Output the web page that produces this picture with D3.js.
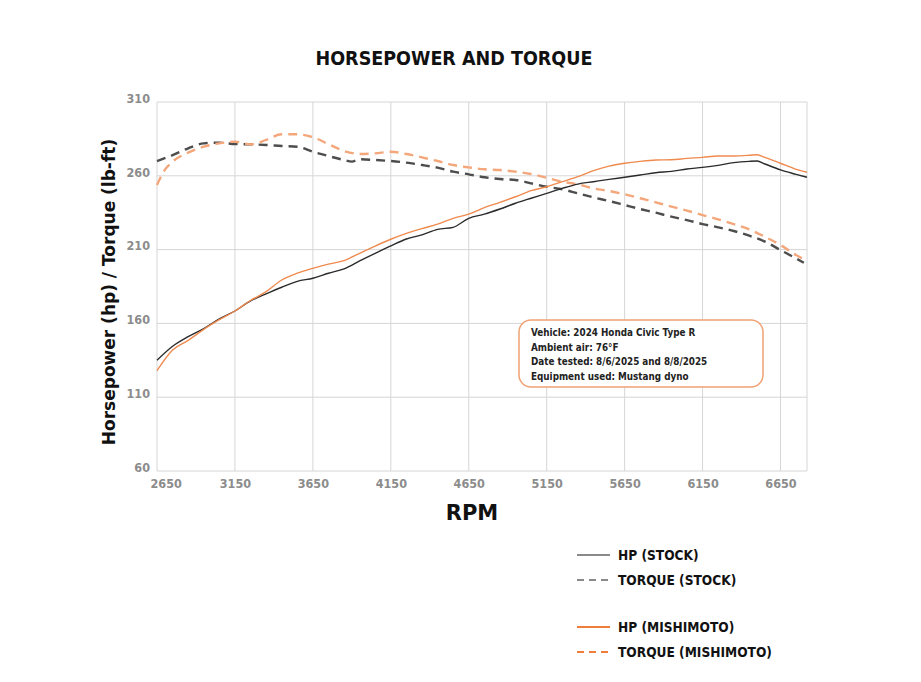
<!DOCTYPE html>
<html>
<head>
<meta charset="utf-8">
<script src="https://cdn.jsdelivr.net/npm/d3@7"></script>
<style>
  body { margin: 0; background: #fff; }
  svg { display: block; }
</style>
</head>
<body>
<svg width="921" height="682"></svg>
<script>
// rpm samples (same for every series except where noted)
const rpm = [2650, 2750, 2850, 2950, 3050, 3150, 3250, 3350, 3450, 3550, 3650, 3750, 3850, 3950,
  4050, 4150, 4250, 4350, 4450, 4550, 4650, 4750, 4850, 4950, 5050, 5150, 5250, 5350, 5450,
  5550, 5650, 5750, 5850, 5950, 6050, 6150, 6250, 6350, 6450, 6500, 6550, 6650, 6750, 6820];

const hpStock = [135, 144.5, 151, 156.5, 163, 168.4, 175.2, 180, 184.5, 188.5, 190.6, 194, 197, 202.3,
  207.5, 212.5, 217.2, 220, 223.7, 225.1, 231.2, 234, 237.5, 241.4, 244.8, 248.1, 251.5, 254.4, 256,
  257.6, 259, 260.5, 262.1, 263, 264.6, 265.7, 267.1, 268.9, 269.8, 270, 268, 264, 261, 259];

const hpMishi = [128, 142, 148.5, 156, 162.5, 168.4, 175.5, 181.5, 189.4, 194, 197.3, 200.2, 202.5, 207.5,
  212.4, 217, 221, 224.2, 227.3, 231.2, 234, 238.4, 242, 245.8, 249.9, 252.6, 256, 259.4, 263.5,
  266.6, 268.5, 269.8, 270.7, 270.9, 271.8, 272.5, 273.4, 273.4, 273.9, 274.3, 272.5, 268.5, 264.4, 262.4];

const tqRpm = [2650, 2750, 2850, 2950, 3050, 3150, 3250, 3350, 3450, 3550, 3650, 3750, 3850, 3900, 3950,
  4050, 4150, 4250, 4350, 4450, 4550, 4650, 4750, 4850, 4950, 5050, 5150, 5250, 5350, 5450,
  5550, 5650, 5750, 5850, 5950, 6050, 6150, 6250, 6350, 6450, 6550, 6650, 6750, 6800];

const tqStock = [270, 274, 278.6, 282, 282.4, 281.5, 281.3, 280.9, 280.2, 279.7, 276.3, 273.4, 270.7, 269.6, 271.2,
  270.7, 270, 268.9, 267.3, 265.5, 262.8, 261, 259, 257.8, 257.2, 254.9, 252.6, 250.9, 248.1, 245.4,
  242.9, 240.2, 237.5, 235, 232.3, 230, 227.3, 225.1, 222.6, 219.4, 215.4, 209.7, 204, 201.1];

const tqMishiRpm = [2650, 2700, 2750, 2850, 2950, 3050, 3150, 3250, 3350, 3450, 3550, 3650, 3750, 3850, 3950,
  4050, 4150, 4250, 4350, 4450, 4550, 4650, 4750, 4850, 4950, 5050, 5150, 5250, 5350, 5450,
  5550, 5650, 5750, 5850, 5950, 6050, 6150, 6250, 6350, 6450, 6550, 6650, 6750, 6820];

const tqMishi = [253.8, 264, 269.6, 275.7, 279.7, 282, 283.1, 281.3, 284.3, 288.1, 288.1, 286.1, 281.5, 276.8, 274.8,
  275.2, 276.3, 274.8, 272.5, 270, 267.3, 265.7, 264.4, 263.9, 262.8, 261.2, 258.7, 256, 254.2, 251.5,
  249.7, 247.5, 244.8, 242, 239.1, 236.4, 233.4, 230.5, 227.3, 223.7, 218.7, 213.1, 206.3, 202.3];

const xTicks = [2650, 3150, 3650, 4150, 4650, 5150, 5650, 6150, 6650];
const yTicks = [60, 110, 160, 210, 260, 310];

const infoLines = [
  "Vehicle: 2024 Honda Civic Type R",
  "Ambient air: 76\u00b0F",
  "Date tested: 8/6/2025 and 8/8/2025",
  "Equipment used: Mustang dyno"
];

const legendItems = [
  {label: "HP (STOCK)", color: "#8a8a8a", dash: null},
  {label: "TORQUE (STOCK)", color: "#8a8a8a", dash: "7,5"},
  {label: "HP (MISHIMOTO)", color: "#ef7d3c", dash: null},
  {label: "TORQUE (MISHIMOTO)", color: "#ef7d3c", dash: "7,5"}
];

const condensed = "'DejaVu Sans Condensed', 'DejaVu Sans', sans-serif";
const heavy = "'DejaVu Sans', 'Liberation Sans', sans-serif";

let svg = d3.select("svg");

let x = d3.scaleLinear().domain([2650, 6820]).range([157, 807]),
    y = d3.scaleLinear().domain([60, 310]).range([471, 102]);

// title
svg.append("text")
    .attr("x", 454).attr("y", 65)
    .attr("text-anchor", "middle")
    .style("font-family", condensed)
    .style("font-weight", "bold")
    .style("font-size", "19.5px")
    .attr("fill", "#111")
    .text("HORSEPOWER AND TORQUE");

// grid
let grid = svg.append("g");
grid.selectAll(".gx").data(xTicks).enter().append("line")
    .attr("x1", d => x(d)).attr("x2", d => x(d))
    .attr("y1", y(310)).attr("y2", y(60))
    .attr("stroke", "#d6d6d6").attr("stroke-width", 1);
grid.selectAll(".gy").data(yTicks).enter().append("line")
    .attr("x1", x(2650)).attr("x2", x(6820))
    .attr("y1", d => y(d)).attr("y2", d => y(d))
    .attr("stroke", "#d6d6d6").attr("stroke-width", 1);
grid.append("line")
    .attr("x1", x(6820)).attr("x2", x(6820))
    .attr("y1", y(310)).attr("y2", y(60))
    .attr("stroke", "#d6d6d6");

// axes (labels only)
let xAxis = svg.append("g")
    .attr("transform", "translate(0," + (y(60) + 4) + ")")
    .call(d3.axisBottom(x).tickValues(xTicks).tickSize(0).tickPadding(4).tickFormat(d3.format("d")));
let yAxis = svg.append("g")
    .attr("transform", "translate(" + (x(2650) - 5) + ",0)")
    .call(d3.axisLeft(y).tickValues(yTicks).tickSize(0).tickPadding(2).tickFormat(d3.format("d")));
[xAxis, yAxis].forEach(a => {
  a.select(".domain").remove();
  a.selectAll("text")
      .style("font-family", condensed)
      .style("font-weight", "bold")
      .style("font-size", "12.5px")
      .attr("fill", "#8c8c8c");
});
yAxis.selectAll("text").attr("dy", "0.02em");
// first rpm label sits inside the plot edge
xAxis.selectAll(".tick").filter(d => d === 2650).select("text")
    .attr("text-anchor", "start").attr("x", -7);

// axis titles
svg.append("text")
    .attr("transform", "translate(115,292) rotate(-90)")
    .attr("text-anchor", "middle")
    .style("font-family", heavy)
    .style("font-weight", "bold")
    .style("font-size", "17px")
    .attr("fill", "#111")
    .text("Horsepower (hp) / Torque (lb-ft)");

svg.append("text")
    .attr("x", 472).attr("y", 520)
    .attr("text-anchor", "middle")
    .style("font-family", heavy)
    .style("font-weight", "bold")
    .style("font-size", "21px")
    .attr("fill", "#111")
    .text("RPM");

// series
let line = d3.line()
    .x(d => x(d[0]))
    .y(d => y(d[1]))
    .curve(d3.curveMonotoneX);

let series = [
  {xs: tqStock.map((v, i) => [tqRpm[i], v]), color: "#4d4d4d", width: 2.4, dash: "9,6"},
  {xs: tqMishi.map((v, i) => [tqMishiRpm[i], v]), color: "#f3a77b", width: 2.4, dash: "9,6"},
  {xs: hpStock.map((v, i) => [rpm[i], v]), color: "#2b2b2b", width: 1.4, dash: null},
  {xs: hpMishi.map((v, i) => [rpm[i], v]), color: "#ef8a4f", width: 1.4, dash: null}
];

svg.selectAll(".series").data(series).enter().append("path")
    .attr("class", "series")
    .attr("d", d => line(d.xs))
    .attr("fill", "none")
    .attr("stroke", d => d.color)
    .attr("stroke-width", d => d.width)
    .attr("stroke-dasharray", d => d.dash);

// info box
let box = svg.append("g");
box.append("rect")
    .attr("x", 519).attr("y", 320)
    .attr("width", 244).attr("height", 67)
    .attr("rx", 12).attr("ry", 12)
    .attr("fill", "#fff")
    .attr("stroke", "#f0a272").attr("stroke-width", 1.5);
box.selectAll(".info").data(infoLines).enter().append("text")
    .attr("x", 531)
    .attr("y", (d, i) => 336 + i * 14.5)
    .style("font-family", condensed)
    .style("font-weight", "bold")
    .style("font-size", "9.8px")
    .attr("fill", "#222")
    .text(d => d);

// legend
let legendY = [555, 580, 627, 652];
let legend = svg.selectAll(".leg").data(legendItems).enter().append("g")
    .attr("transform", (d, i) => "translate(577," + legendY[i] + ")");
legend.append("line")
    .attr("x1", 0).attr("x2", 33)
    .attr("stroke", d => d.color)
    .attr("stroke-width", 2)
    .attr("stroke-dasharray", d => d.dash);
legend.append("text")
    .attr("x", 41).attr("y", 5)
    .style("font-family", condensed)
    .style("font-weight", "bold")
    .style("font-size", "13.6px")
    .attr("fill", "#111")
    .text(d => d.label);
</script>
</body>
</html>
